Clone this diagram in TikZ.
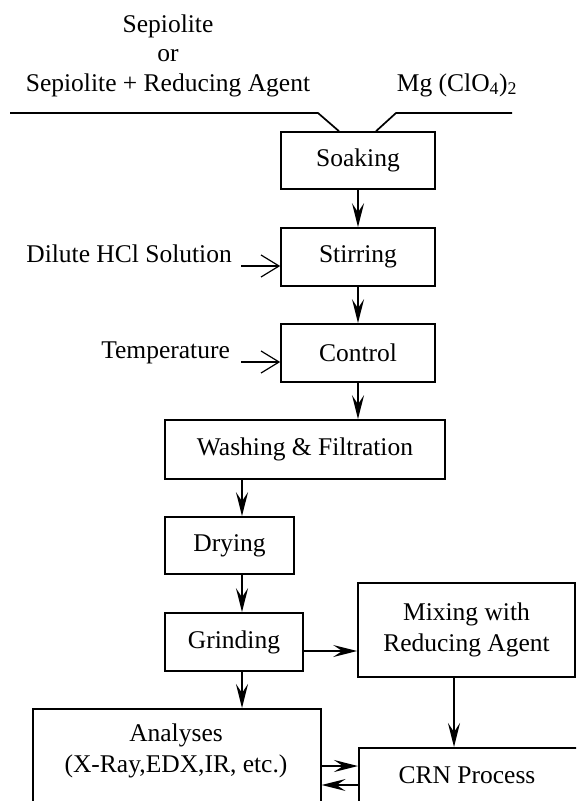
\documentclass[tikz,border=0pt]{standalone}
\usepackage{fontspec}
\setmainfont{Liberation Serif}
\usetikzlibrary{arrows.meta}
\begin{document}
\begin{tikzpicture}[x=1pt,y=-1pt,
  every node/.style={font=\fontsize{25.5}{31}\selectfont},
  box/.style={draw, line width=1.6pt, inner sep=0pt},
  lab/.style={inner sep=0pt},
  arr/.style={line width=1.6pt, -{Stealth[length=24pt,width=12pt,inset=9pt]}},
  openarr/.style={line width=1.2pt, -{Straight Barb[length=18pt,width=22pt]}},
  feed/.style={line width=1.7pt}]
\path[use as bounding box] (0,0) rectangle (576,801);
\clip (0,0) rectangle (576,801);

% boxes
\node[box, minimum width=154pt, minimum height=57pt] (soak) at (358,160.5) {Soaking};
\node[box, minimum width=154pt, minimum height=58pt] (stir) at (358,257) {Stirring};
\node[box, minimum width=154pt, minimum height=58pt] (ctrl) at (358,353) {Control};
\node[box, minimum width=280pt, minimum height=59pt] (wash) at (305,449.5) {Washing \& Filtration};
\node[box, minimum width=129pt, minimum height=57pt] (dry) at (229.5,545.5) {Drying};
\node[box, minimum width=138pt, minimum height=58pt] (grind) at (234,642) {Grinding};
\node[box, minimum width=217pt, minimum height=94pt, align=center] (mix) at (466.5,630) {Mixing with\\Reducing Agent};
\node[box, anchor=north west, minimum width=288pt, minimum height=140pt] (ana) at (32,708) {};
\node[lab, align=center] (anatext) at (176,751) {Analyses\\(X-Ray,EDX,IR, etc.)};
\node[box, anchor=north west, minimum width=260pt, minimum height=120pt] (crn) at (358,747) {};
\node[lab] (crntext) at (467,775) {CRN Process};

% top texts
\node[lab, anchor=base] (sep1) at (168,32) {Sepiolite};
\node[lab, anchor=base] (or) at (168,61) {or};
\node[lab, anchor=base] (sep2) at (168,91) {Sepiolite + Reducing Agent};
\node[lab, anchor=base] (mg) at (457,91) {Mg (ClO\textsubscript{4})\textsubscript{2}};

% side texts
\node[lab, anchor=base east] (hcl) at (232,262) {Dilute HCl Solution};
\node[lab, anchor=base east] (temp) at (230,358) {Temperature};

% feed lines
\coordinate (L) at (10,113);
\coordinate (Lk) at (318,113);
\coordinate (Rk) at (396,113);
\coordinate (R) at (512,113);
\coordinate (sl) at (339,0);
\coordinate (sr) at (376,0);
\draw[feed] (L) -- (Lk) -- (soak.north -| sl);
\draw[feed] (soak.north -| sr) -- (Rk) -- (R);

% main arrows
\draw[arr] (soak.south) -- (stir.north);
\draw[arr] (stir.south) -- (ctrl.north);
\draw[arr] (ctrl.south) -- (wash.north -| ctrl.south);
\coordinate (ax) at (242,0);
\draw[arr] (wash.south -| ax) -- (dry.north -| ax);
\draw[arr] (dry.south -| ax) -- (grind.north -| ax);
\draw[arr] (grind.south -| ax) -- (ana.north -| ax);
\coordinate (gy) at (0,651);
\draw[arr] (grind.east |- gy) -- (mix.west |- gy);
\coordinate (mx) at (454,0);
\draw[arr] (mix.south -| mx) -- (crn.north -| mx);
\coordinate (y1) at (0,766);
\coordinate (y2) at (0,785);
\draw[arr] (ana.east |- y1) -- (crn.west |- y1);
\draw[arr] (crn.west |- y2) -- (ana.east |- y2);

% side arrows
\coordinate (hclS) at (241,266);
\coordinate (tS) at (241,362);
\draw[openarr] (hclS) -- (stir.west |- hclS);
\draw[openarr] (tS) -- (ctrl.west |- tS);
\end{tikzpicture}
\end{document}
